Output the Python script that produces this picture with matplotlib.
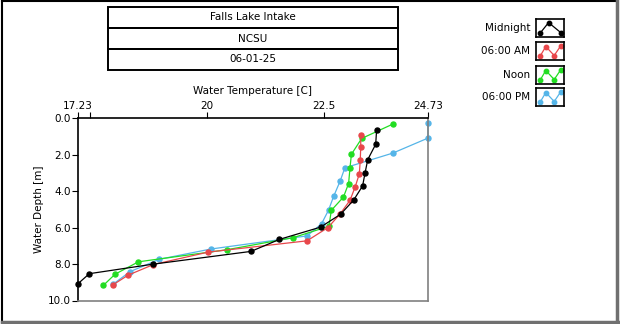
import matplotlib
matplotlib.use("Agg")
import matplotlib.pyplot as plt
from matplotlib.patches import Rectangle
from matplotlib.lines import Line2D

W, H = 620, 324

# header text
title_rows = ["Falls Lake Intake", "NCSU", "06-01-25"]

# series names and colours
series_names = ["Midnight", "06:00 AM", "Noon", "06:00 PM"]
series_colors = ["#000000", "#E8474B", "#22DD22", "#55B5E8"]

# temperature [C] and depth [m] of each profile
midnight_temp = [23.63, 23.61, 23.44, 23.38, 23.33, 23.14, 22.86, 22.43, 21.55, 20.94, 18.84, 17.48, 17.24]
midnight_depth = [0.65, 1.44, 2.28, 3.04, 3.72, 4.49, 5.27, 5.98, 6.65, 7.31, 8.01, 8.53, 9.07]

am_temp = [23.29, 23.29, 23.28, 23.26, 23.17, 23.06, 22.85, 22.59, 22.14, 20.02, 18.85, 18.31, 17.98]
am_depth = [0.92, 1.58, 2.29, 3.06, 3.78, 4.51, 5.25, 6.00, 6.73, 7.35, 8.03, 8.61, 9.15]

noon_temp = [23.98, 23.31, 23.09, 23.06, 23.03, 22.92, 22.66, 22.61, 21.84, 20.42, 18.53, 18.03, 17.78]
noon_depth = [0.33, 1.12, 1.99, 2.73, 3.59, 4.33, 5.06, 5.93, 6.56, 7.22, 7.88, 8.56, 9.17]

pm_temp = [24.73, 24.73, 23.98, 22.95, 22.85, 22.71, 22.60, 22.45, 22.14, 20.08, 18.98, 18.35, 17.98]
pm_depth = [0.29, 1.10, 1.92, 2.73, 3.45, 4.29, 5.05, 5.80, 6.46, 7.18, 7.74, 8.42, 9.12]

x_ticks = [17.23, 17.5, 20, 22.5, 24.73]
x_tick_labels = ["17.23", "", "20", "22.5", "24.73"]
y_ticks = [0, 2, 4, 6, 8, 10]

plt.rcParams['font.family'] = ['DejaVu Sans']


def fx(x):
    return x / W


def fy(y):
    return 1 - y / H


fig = plt.figure(figsize=(6.2, 3.24), dpi=100)
fig.patch.set_facecolor("white")

# outer frame
fig.add_artist(Line2D([fx(2), fx(617)], [fy(1), fy(1)], color="black", lw=1.5))
fig.add_artist(Line2D([fx(2), fx(2)], [fy(1), fy(322)], color="black", lw=1.5))
fig.add_artist(Line2D([fx(2), fx(618)], [fy(322), fy(322)], color="#707070", lw=2.5))
fig.add_artist(Line2D([fx(617), fx(617)], [fy(1), fy(322)], color="#707070", lw=2.5))

# header boxes
row_tops = [7, 28, 49]
for top, txt in zip(row_tops, title_rows):
    fig.add_artist(Rectangle((fx(108), fy(top + 21)), fx(398) - fx(108), fy(top) - fy(top + 21),
                             fill=False, ec="black", lw=1.4))
    fig.text(fx(253), fy(top + 10.5), txt, ha="center", va="center", fontsize=7.5)

# main plot
ax = fig.add_axes([fx(77.7), fy(300.5), fx(428) - fx(77.7), fy(118) - fy(300.5)])
profiles = [
    (pm_temp, pm_depth, series_colors[3]),
    (noon_temp, noon_depth, series_colors[2]),
    (am_temp, am_depth, series_colors[1]),
    (midnight_temp, midnight_depth, series_colors[0]),
]
for t, d, c in profiles:
    ax.plot(t, d, color=c, lw=0.9, marker="o", ms=3.6, clip_on=False)

ax.set_xlim(17.23, 24.73)
ax.set_ylim(10, 0)
ax.xaxis.tick_top()
ax.xaxis.set_label_position("top")
ax.set_xticks(x_ticks)
ax.set_xticklabels(x_tick_labels)
ax.set_yticks(y_ticks)
ax.set_yticklabels(["%.1f" % v for v in y_ticks])
ax.tick_params(axis="both", labelsize=7.5, length=4, width=0.8, pad=1, direction="out")
ax.set_xlabel("Water Temperature [C]", fontsize=7.5, labelpad=5)
ax.set_ylabel("Water Depth [m]", fontsize=7.5, labelpad=3)
for side in ["top", "left"]:
    ax.spines[side].set_color("black")
    ax.spines[side].set_linewidth(1.2)
for side in ["bottom", "right"]:
    ax.spines[side].set_color("#808080")
    ax.spines[side].set_linewidth(1.2)

# legend with small icon boxes
legend_tops = [19, 42, 66, 88]
icon_shapes = [
    ([0.15, 0.45, 0.88], [0.22, 0.8, 0.25]),
    ([0.15, 0.35, 0.65, 0.88], [0.22, 0.75, 0.25, 0.78]),
    ([0.15, 0.35, 0.65, 0.88], [0.22, 0.75, 0.25, 0.78]),
    ([0.15, 0.35, 0.65, 0.88], [0.22, 0.75, 0.25, 0.78]),
]
for name, c, top, (ix, iy) in zip(series_names, series_colors, legend_tops, icon_shapes):
    fig.text(fx(530), fy(top + 9), name, ha="right", va="center", fontsize=7.5)
    iax = fig.add_axes([fx(536), fy(top + 18), fx(564) - fx(536), fy(top) - fy(top + 18)])
    iax.plot(ix, iy, color=c, lw=0.9, marker="o", ms=3.2)
    iax.set_xlim(0, 1)
    iax.set_ylim(0, 1)
    iax.set_xticks([])
    iax.set_yticks([])
    for s in iax.spines.values():
        s.set_linewidth(1.2)

fig.savefig("out.png", dpi=100)
